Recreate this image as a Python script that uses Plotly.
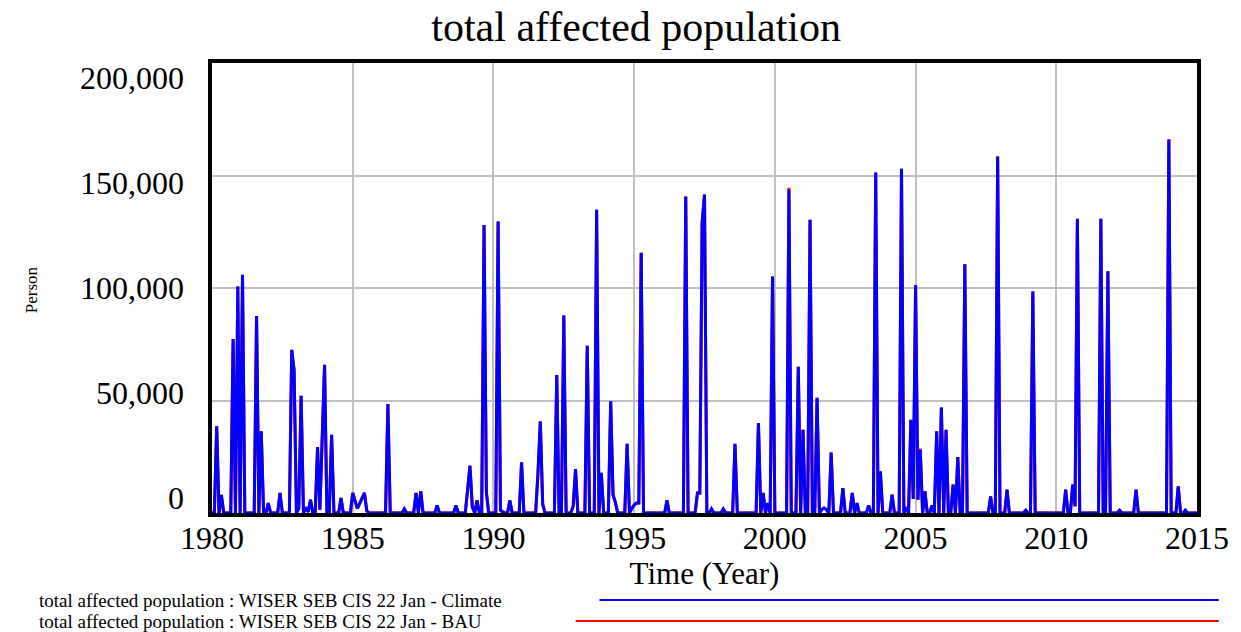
import plotly.graph_objects as go

# ---------------- data ----------------
title_text = "total affected population"
x_title = "Time (Year)"
y_title = "Person"
name_climate = "total affected population : WISER SEB CIS 22 Jan - Climate"
name_bau = "total affected population : WISER SEB CIS 22 Jan - BAU"

start_year = 1980
end_year = 2015
steps_per_year = 12  # monthly simulation output

# months (since Jan 1980) with a non-zero affected population, and the values (Climate run)
event_months = [
    2, 4, 9, 11, 13, 19, 21, 24, 29, 34, 35, 37, 38, 40, 41, 42, 45, 46, 47, 48,
    51, 55, 60, 61, 62, 63, 64, 65, 66, 75, 82, 87, 89, 96, 104, 109, 110, 111, 113,
    116, 117, 122, 123, 124, 127, 132, 139, 140, 141, 147, 150, 154, 155, 160, 164,
    166, 170, 171, 172, 177, 179, 180, 181, 182, 183, 194, 202, 207, 208, 209, 210,
    213, 218, 223, 233, 235, 237, 239, 246, 250, 252, 255, 258, 260, 261, 262, 264,
    269, 273, 275, 280, 283, 285, 290, 294, 296, 298, 299, 300, 301, 302, 304, 307,
    309, 311, 313, 316, 318, 321, 332, 335, 339, 347, 350, 364, 367, 368, 369, 379,
    382, 387, 394, 408, 412, 415,
]
climate_values = [
    38500, 8000, 77300, 100700, 105900, 87600, 36300, 4400, 8900, 72500, 63600, 2000,
    52100, 2500, 500, 5900, 29300, 1500, 33000, 65900,
    34800, 6700, 8900, 5400, 2000, 4300, 6600, 8900, 1000, 48400, 1800, 8900, 9600,
    3400, 3400, 10500, 21000, 2700, 5600,
    128000, 9000, 129500, 1200, 500, 5600, 22500, 18000, 40700, 4000, 61300, 87800,
    3000, 19500, 74300, 134800,
    17800, 49700, 8000, 4700, 30800, 2000, 3500, 4400, 4400, 115700, 5600, 140700,
    8900, 8900, 128800, 141500,
    1800, 1800, 30800, 40000, 8900, 4400, 105100, 143600, 65000, 37000, 130300, 51200,
    1500, 2200, 1500, 26900,
    11100, 8900, 4400, 3400, 151300, 18500, 8100, 153000, 2500, 41400, 6200, 101200,
    5900, 28100, 9600, 3400,
    36300, 46900, 37000, 12600, 24900, 110600, 7400, 158400, 10400, 1200, 98400,
    10400, 12600, 3000, 130800, 130800,
    107400, 1200, 10400, 165800, 11800, 1200,
]
# months where the BAU run differs visibly from the Climate run
bau_diff_months = [209, 246, 302, 408]
bau_diff_values = [129500, 144600, 28600, 166200]

x_ticks = [1980, 1985, 1990, 1995, 2000, 2005, 2010, 2015]
y_ticks = [0, 50000, 100000, 150000, 200000]
y_tick_text = ["0", "50,000", "100,000", "150,000", "200,000"]

# ---------------- build series ----------------
n_steps = (end_year - start_year) * steps_per_year + 1
times = [start_year + k / steps_per_year for k in range(n_steps)]
climate = [0.0] * n_steps
for m, v in zip(event_months, climate_values):
    climate[m] = v
bau = list(climate)
for m, v in zip(bau_diff_months, bau_diff_values):
    bau[m] = v

# ---------------- layout geometry (pixels) ----------------
W, H = 1241, 632
L, R, T, B = 212, 1206, 63, 513


def px_x(px):
    return (px - L) / (R - L)


def px_y(py):
    return (B - py) / (B - T)


SERIF = "Liberation Serif, Times New Roman, serif"

fig = go.Figure()
fig.add_trace(go.Scatter(x=times, y=bau, mode="lines", name=name_bau,
                         line=dict(color="#FF0000", width=3), showlegend=False))
fig.add_trace(go.Scatter(x=times, y=climate, mode="lines", name=name_climate,
                         line=dict(color="#0000FF", width=3), showlegend=False))
# carrier trace for the (Vensim-style, offset) tick-label axis
fig.add_trace(go.Scatter(x=[start_year], y=[0], yaxis="y2", mode="markers",
                         marker=dict(opacity=0), showlegend=False, hoverinfo="skip"))

# Vensim places value labels slightly compressed toward the middle of the axis
label_pos = [100000 + (v - 100000) * 0.933 for v in y_ticks]

fig.update_layout(
    width=W, height=H,
    margin=dict(l=L, r=W - R, t=T, b=H - B),
    paper_bgcolor="white", plot_bgcolor="white",
    font=dict(family=SERIF, color="black"),
    title=dict(text=title_text, xref="paper", x=px_x(640), xanchor="center",
               yref="container", y=1 - 26 / H, yanchor="middle",
               font=dict(size=42, family=SERIF, color="black")),
    xaxis=dict(range=[start_year, end_year], tickvals=x_ticks,
               ticktext=[str(t) for t in x_ticks],
               showgrid=True, gridcolor="#C0C0C0", gridwidth=2,
               showline=True, linecolor="black", linewidth=4, mirror=True,
               ticks="", zeroline=False, ticklabelstandoff=-6,
               tickfont=dict(size=32, family=SERIF, color="black"),
               title=dict(text=x_title, font=dict(size=31, family=SERIF, color="black"),
                          standoff=0)),
    yaxis=dict(range=[0, 200000], tickvals=y_ticks, showticklabels=False,
               showgrid=True, gridcolor="#C0C0C0", gridwidth=2,
               showline=True, linecolor="black", linewidth=4, mirror=True,
               ticks="", zeroline=False),
    yaxis2=dict(range=[0, 200000], overlaying="y", side="left",
                tickvals=label_pos, ticktext=y_tick_text,
                showgrid=False, showline=False, zeroline=False, ticks="",
                ticklabelstandoff=27,
                tickfont=dict(size=32, family=SERIF, color="black")),
)

fig.add_annotation(text=y_title, textangle=-90, xref="paper", yref="paper",
                   x=px_x(18), y=px_y(290), showarrow=False,
                   font=dict(size=17, family=SERIF, color="black"))

# Vensim-style legend below the plot
legend_rows = [(name_climate, "#0000FF", 600, 603), (name_bau, "#FF0000", 621, 579)]
for text, color, ypix, line_start in legend_rows:
    fig.add_annotation(text=text, xref="paper", yref="paper", x=px_x(35), y=px_y(ypix),
                       xanchor="left", yanchor="middle", showarrow=False,
                       font=dict(size=19, family=SERIF, color="black"))
    fig.add_shape(type="line", xref="paper", yref="paper",
                  x0=px_x(line_start), x1=px_x(1228), y0=px_y(ypix), y1=px_y(ypix),
                  line=dict(color=color, width=2))

fig.write_html("out.html", config={"displayModeBar": False},
               post_script="document.body.style.margin='0px';document.body.style.overflow='hidden';")
